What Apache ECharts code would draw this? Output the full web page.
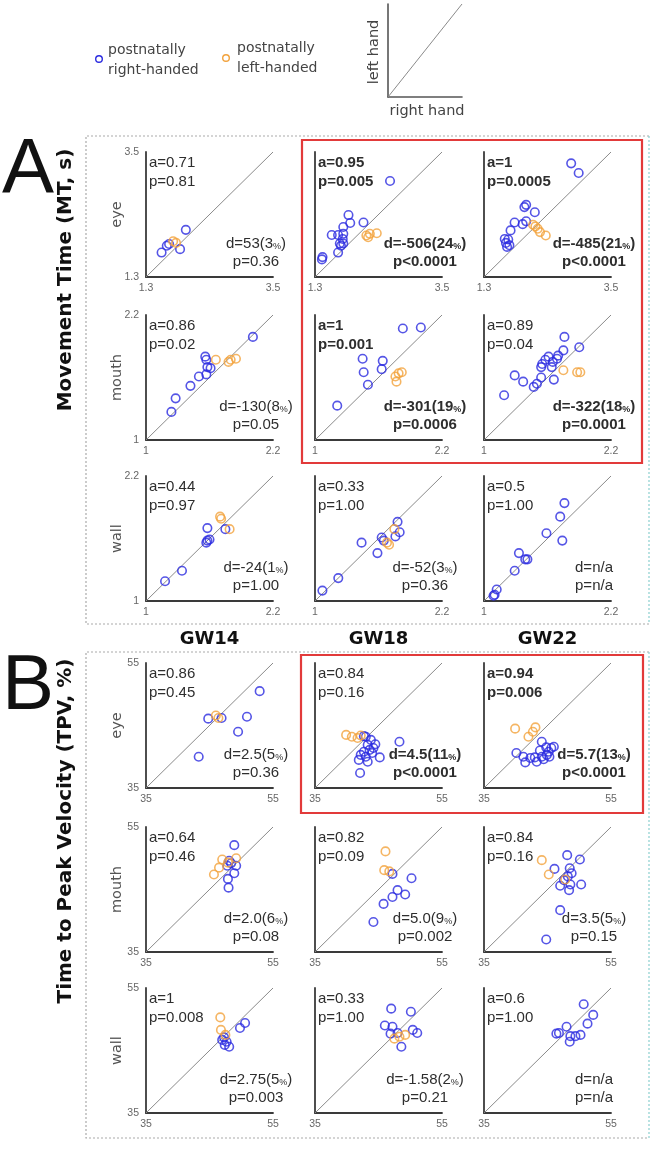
<!DOCTYPE html>
<html>
<head>
<meta charset="utf-8">
<script src="https://cdn.jsdelivr.net/npm/echarts@6/dist/echarts.min.js"></script>
<style>html,body{margin:0;padding:0;background:#fff}#c{width:654px;height:1150px}</style>
</head>
<body>
<div id="c"></div>
<script>
// ---------- DATA ----------
const columns = ['GW14', 'GW18', 'GW22'];
const rowNames = ['eye', 'mouth', 'wall', 'eye', 'mouth', 'wall'];
const rowRanges = [[1.3, 3.5], [1, 2.2], [1, 2.2], [35, 55], [35, 55], [35, 55]];

// Movement Time (MT, s): [right hand, left hand]
const mtEyeGW14R = [[1.57,1.73],[1.66,1.85],[1.70,1.88],[1.89,1.79],[1.99,2.13]];
const mtEyeGW14L = [[1.77,1.93],[1.82,1.90]];
const mtEyeGW18R = [[2.60,2.99],[2.14,2.26],[1.88,2.39],[1.91,2.25],[1.79,2.18],[1.59,2.04],[1.70,2.04],[1.79,2.06],[1.78,1.97],[1.73,1.89],[1.79,1.89],[1.70,1.73],[1.43,1.65],[1.42,1.61],[1.75,1.85]];
const mtEyeGW18L = [[2.19,2.03],[2.25,2.06],[2.37,2.07],[2.22,2.00]];
const mtEyeGW22R = [[2.81,3.30],[2.94,3.13],[2.03,2.57],[2.00,2.53],[2.18,2.44],[1.83,2.26],[1.97,2.23],[2.03,2.28],[1.76,2.12],[1.66,1.97],[1.72,1.96],[1.70,1.83],[1.74,1.86],[1.68,1.90]];
const mtEyeGW22L = [[2.15,2.22],[2.23,2.15],[2.27,2.09],[2.37,2.03],[2.19,2.19]];

const mtMouthGW14R = [[2.01,1.99],[1.56,1.80],[1.57,1.77],[1.58,1.70],[1.61,1.69],[1.57,1.63],[1.50,1.61],[1.42,1.52],[1.28,1.40],[1.24,1.27]];
const mtMouthGW14L = [[1.66,1.77],[1.78,1.75],[1.80,1.77],[1.85,1.78]];
const mtMouthGW18R = [[1.83,2.07],[2.00,2.08],[1.45,1.78],[1.64,1.76],[1.46,1.65],[1.63,1.68],[1.50,1.53],[1.21,1.33]];
const mtMouthGW18L = [[1.82,1.65],[1.76,1.61],[1.77,1.56],[1.79,1.64]];
const mtMouthGW22R = [[1.76,1.99],[1.90,1.89],[1.61,1.80],[1.75,1.86],[1.70,1.81],[1.58,1.77],[1.55,1.73],[1.65,1.75],[1.69,1.78],[1.64,1.70],[1.54,1.70],[1.29,1.62],[1.37,1.56],[1.47,1.51],[1.50,1.54],[1.54,1.60],[1.66,1.58],[1.19,1.43]];
const mtMouthGW22L = [[1.75,1.67],[1.88,1.65],[1.91,1.65]];

const mtWallGW14R = [[1.18,1.19],[1.34,1.29],[1.58,1.70],[1.58,1.58],[1.60,1.59],[1.57,1.56],[1.75,1.69]];
const mtWallGW14L = [[1.70,1.81],[1.71,1.79],[1.79,1.69]];
const mtWallGW18R = [[1.07,1.10],[1.22,1.22],[1.44,1.56],[1.59,1.46],[1.63,1.61],[1.65,1.58],[1.78,1.76],[1.80,1.66],[1.76,1.62]];
const mtWallGW18L = [[1.75,1.69],[1.70,1.54],[1.68,1.56]];
const mtWallGW22R = [[1.76,1.94],[1.72,1.81],[1.59,1.65],[1.74,1.58],[1.33,1.46],[1.39,1.40],[1.41,1.40],[1.29,1.29],[1.12,1.11],[1.10,1.06],[1.09,1.05]];
const mtWallGW22L = [];

// Time to Peak Velocity (TPV, %)
const tpvEyeGW14R = [[52.9,50.5],[44.8,46.1],[46.9,46.2],[50.9,46.4],[49.5,44.0],[43.3,40.0]];
const tpvEyeGW14L = [[46.0,46.6],[46.4,46.2]];
const tpvEyeGW18R = [[48.3,42.4],[42.7,43.3],[43.0,43.2],[43.8,42.7],[43.3,41.9],[44.2,41.4],[43.6,41.1],[42.7,40.8],[42.2,40.3],[43.0,40.0],[41.9,39.5],[43.3,39.2],[45.2,39.9],[42.1,37.4],[44.0,40.6],[44.5,42.0]];
const tpvEyeGW18L = [[39.9,43.5],[40.8,43.2],[41.7,43.0],[42.2,43.4]];
const tpvEyeGW22R = [[44.1,42.4],[44.8,41.5],[45.6,41.4],[46.0,41.6],[45.2,40.8],[40.1,40.6],[41.2,40.0],[42.3,39.8],[41.5,39.1],[43.3,39.2],[44.1,40.0],[44.9,40.3],[45.3,40.0],[44.4,39.6],[43.0,39.9],[43.8,41.0]];
const tpvEyeGW22L = [[39.9,44.5],[43.1,44.7],[42.7,44.0],[42.0,43.2]];

const tpvMouthGW14R = [[48.9,52.1],[48.4,49.2],[47.8,48.8],[49.2,48.8],[48.9,47.6],[47.9,46.7],[48.0,45.3],[48.1,49.6]];
const tpvMouthGW14L = [[47.0,49.8],[49.2,50.0],[46.5,48.5],[45.7,47.4],[47.9,49.3]];
const tpvMouthGW18R = [[47.2,47.5],[50.2,46.8],[48.0,44.9],[49.2,44.2],[47.2,43.8],[45.8,42.7],[44.2,39.8]];
const tpvMouthGW18L = [[46.1,51.1],[45.9,48.1],[46.7,47.9]];
const tpvMouthGW22R = [[48.1,50.5],[50.1,49.8],[46.1,48.3],[48.5,48.4],[48.2,47.1],[47.6,46.5],[48.6,45.8],[47.0,45.6],[48.4,44.9],[50.3,45.8],[47.0,41.7],[44.8,37.0],[48.8,47.6]];
const tpvMouthGW22L = [[44.1,49.7],[45.2,47.4],[47.8,46.6]];

const tpvWallGW14R = [[50.6,49.4],[49.8,48.6],[47.3,47.1],[47.7,46.4],[48.1,45.6],[47.4,45.9],[47.0,46.7]];
const tpvWallGW14L = [[46.7,50.3],[46.8,48.3],[47.5,47.5]];
const tpvWallGW18R = [[47.0,51.7],[50.1,51.2],[46.0,49.0],[47.2,48.8],[46.9,47.7],[48.0,47.8],[50.4,48.3],[51.1,47.8],[48.6,45.6]];
const tpvWallGW18L = [[48.3,47.2],[49.2,47.5],[47.5,46.9]];
const tpvWallGW22R = [[50.7,52.4],[52.2,50.7],[51.3,49.3],[48.0,48.8],[46.8,47.8],[46.4,47.7],[48.5,46.4],[50.2,47.5],[49.4,47.3],[48.6,47.3]];
const tpvWallGW22L = [];

const rightData = [
  [mtEyeGW14R, mtEyeGW18R, mtEyeGW22R],
  [mtMouthGW14R, mtMouthGW18R, mtMouthGW22R],
  [mtWallGW14R, mtWallGW18R, mtWallGW22R],
  [tpvEyeGW14R, tpvEyeGW18R, tpvEyeGW22R],
  [tpvMouthGW14R, tpvMouthGW18R, tpvMouthGW22R],
  [tpvWallGW14R, tpvWallGW18R, tpvWallGW22R]
];
const leftData = [
  [mtEyeGW14L, mtEyeGW18L, mtEyeGW22L],
  [mtMouthGW14L, mtMouthGW18L, mtMouthGW22L],
  [mtWallGW14L, mtWallGW18L, mtWallGW22L],
  [tpvEyeGW14L, tpvEyeGW18L, tpvEyeGW22L],
  [tpvMouthGW14L, tpvMouthGW18L, tpvMouthGW22L],
  [tpvWallGW14L, tpvWallGW18L, tpvWallGW22L]
];

// statistics text: [a, p, d, pd, topBold, bottomBold]
const stats = [
  [['a=0.71','p=0.81','d=53(3%)','p=0.36',0,0], ['a=0.95','p=0.005','d=-506(24%)','p<0.0001',1,1], ['a=1','p=0.0005','d=-485(21%)','p<0.0001',1,1]],
  [['a=0.86','p=0.02','d=-130(8%)','p=0.05',0,0], ['a=1','p=0.001','d=-301(19%)','p=0.0006',1,1], ['a=0.89','p=0.04','d=-322(18%)','p=0.0001',0,1]],
  [['a=0.44','p=0.97','d=-24(1%)','p=1.00',0,0], ['a=0.33','p=1.00','d=-52(3%)','p=0.36',0,0], ['a=0.5','p=1.00','d=n/a','p=n/a',0,0]],
  [['a=0.86','p=0.45','d=2.5(5%)','p=0.36',0,0], ['a=0.84','p=0.16','d=4.5(11%)','p<0.0001',0,1], ['a=0.94','p=0.006','d=5.7(13%)','p<0.0001',1,1]],
  [['a=0.64','p=0.46','d=2.0(6%)','p=0.08',0,0], ['a=0.82','p=0.09','d=5.0(9%)','p=0.002',0,0], ['a=0.84','p=0.16','d=3.5(5%)','p=0.15',0,0]],
  [['a=1','p=0.008','d=2.75(5%)','p=0.003',0,0], ['a=0.33','p=1.00','d=-1.58(2%)','p=0.21',0,0], ['a=0.6','p=1.00','d=n/a','p=n/a',0,0]]
];

const legendLabels = ['postnatally\nright-handed', 'postnatally\nleft-handed'];
const sectionTitles = ['Movement Time (MT, s)', 'Time to Peak Velocity (TPV, %)'];
const sectionLetters = ['A', 'B'];

// ---------- LAYOUT ----------
const BLUE = '#2a2ae0', ORANGE = '#f2a23c';
const COL_X = [146, 315, 484];
const ROW_TOP = [152, 315, 476, 663, 827, 988];
const GW = 127, GH = 125;
const TXT = '#2e2e2e';
const PANEL_FONT = 'Liberation Sans, Arial, sans-serif';
const LABEL_FONT = 'DejaVu Sans, sans-serif';

const grid = [], xAxis = [], yAxis = [], series = [], graphic = [];

for (let r = 0; r < 6; r++) {
  const [mn, mx] = rowRanges[r];
  for (let c = 0; c < 3; c++) {
    const gi = grid.length;
    grid.push({left: COL_X[c], top: ROW_TOP[r], width: GW, height: GH});
    const axLine = {show: true, onZero: false, lineStyle: {color: '#3a3a3a', width: 1.8}};
    xAxis.push({gridIndex: gi, type: 'value', min: mn, max: mx, axisLine: axLine,
      axisTick: {show: false}, splitLine: {show: false},
      axisLabel: {customValues: [mn, mx], fontSize: 10.5, color: '#666', margin: 6, fontFamily: PANEL_FONT, hideOverlap: false}});
    yAxis.push({gridIndex: gi, type: 'value', min: mn, max: mx, axisLine: axLine,
      axisTick: {show: false}, splitLine: {show: false},
      axisLabel: {show: c === 0, customValues: [mn, mx], fontSize: 10.5, color: '#666', margin: 7, fontFamily: PANEL_FONT, hideOverlap: false}});
    series.push({type: 'line', xAxisIndex: gi, yAxisIndex: gi, data: [[mn, mn], [mx, mx]],
      symbol: 'none', silent: true, lineStyle: {color: '#8a8a8a', width: 1}, z: 1});
    series.push({type: 'scatter', xAxisIndex: gi, yAxisIndex: gi, data: rightData[r][c],
      symbol: 'circle', symbolSize: 8.5, silent: true,
      itemStyle: {color: 'rgba(0,0,0,0)', borderColor: BLUE, borderWidth: 1.6}, z: 2});
    series.push({type: 'scatter', xAxisIndex: gi, yAxisIndex: gi, data: leftData[r][c],
      symbol: 'circle', symbolSize: 8.5, silent: true,
      itemStyle: {color: 'rgba(0,0,0,0)', borderColor: ORANGE, borderWidth: 1.6}, z: 3});

    // annotations
    const s = stats[r][c];
    const x0 = COL_X[c], t0 = ROW_TOP[r];
    const fwTop = s[4] ? 'bold' : 'normal', fwBot = s[5] ? 'bold' : 'normal';
    const pct = (str) => str.replace('%', '{pc|%}');
    graphic.push({type: 'text', x: x0 + 3, y: t0 + 11, style: {text: s[0], font: fwTop + ' 15px ' + PANEL_FONT, fill: TXT, textVerticalAlign: 'middle'}});
    graphic.push({type: 'text', x: x0 + 3, y: t0 + 30, style: {text: s[1], font: fwTop + ' 15px ' + PANEL_FONT, fill: TXT, textVerticalAlign: 'middle'}});
    graphic.push({type: 'text', x: x0 + 110, y: t0 + 92, style: {text: pct(s[2]), font: fwBot + ' 15px ' + PANEL_FONT, fill: TXT, textAlign: 'center', textVerticalAlign: 'middle',
      rich: {pc: {fontSize: 9, fontWeight: fwBot, fontFamily: PANEL_FONT, fill: TXT, padding: [5, 0, 0, 0]}}}});
    graphic.push({type: 'text', x: x0 + 110, y: t0 + 110, style: {text: s[3], font: fwBot + ' 15px ' + PANEL_FONT, fill: TXT, textAlign: 'center', textVerticalAlign: 'middle'}});
  }
  // row label
  graphic.push({type: 'text', x: 117, y: ROW_TOP[r] + GH / 2, rotation: Math.PI / 2,
    style: {text: rowNames[r], font: '14.5px ' + LABEL_FONT, fill: '#555', textAlign: 'center', textVerticalAlign: 'middle'}});
}

// inset explaining axes
const ig = grid.length;
grid.push({left: 388, top: 4, width: 74, height: 93});
xAxis.push({gridIndex: ig, type: 'value', min: 0, max: 1, axisLine: {lineStyle: {color: '#555', width: 1.6}}, axisTick: {show: false}, axisLabel: {show: false}, splitLine: {show: false}});
yAxis.push({gridIndex: ig, type: 'value', min: 0, max: 1, axisLine: {show: true, lineStyle: {color: '#555', width: 1.6}}, axisTick: {show: false}, axisLabel: {show: false}, splitLine: {show: false}});
series.push({type: 'line', xAxisIndex: ig, yAxisIndex: ig, data: [[0, 0], [1, 1]], symbol: 'none', silent: true, lineStyle: {color: '#8a8a8a', width: 1}});
graphic.push({type: 'text', x: 374, y: 52, rotation: Math.PI / 2, style: {text: 'left hand', font: '14.5px ' + LABEL_FONT, fill: '#444', textAlign: 'center', textVerticalAlign: 'middle'}});
graphic.push({type: 'text', x: 427, y: 111, style: {text: 'right hand', font: '14.5px ' + LABEL_FONT, fill: '#444', textAlign: 'center', textVerticalAlign: 'middle'}});

// legend
graphic.push({type: 'circle', shape: {cx: 99, cy: 59, r: 3.3}, style: {fill: 'none', stroke: BLUE, lineWidth: 1.4}});
graphic.push({type: 'text', x: 108, y: 60, style: {text: legendLabels[0], font: '14px ' + LABEL_FONT, fill: '#444', textVerticalAlign: 'middle', lineHeight: 20}});
graphic.push({type: 'circle', shape: {cx: 226, cy: 58, r: 3.3}, style: {fill: 'none', stroke: ORANGE, lineWidth: 1.4}});
graphic.push({type: 'text', x: 237, y: 58, style: {text: legendLabels[1], font: '14px ' + LABEL_FONT, fill: '#444', textVerticalAlign: 'middle', lineHeight: 20}});

// section boxes (dotted, right edge tinted)
const boxes = [[86, 136, 649, 624], [86, 652, 649, 1138]];
boxes.forEach(([x1, y1, x2, y2]) => {
  const dash = {fill: 'none', stroke: '#aaa', lineWidth: 1.2, lineDash: [2, 2]};
  graphic.push({type: 'polyline', shape: {points: [[x2, y1], [x1, y1], [x1, y2], [x2, y2]]}, style: dash, z: 0});
  graphic.push({type: 'line', shape: {x1: x2, y1: y1, x2: x2, y2: y2}, style: {stroke: '#8ccfcf', lineWidth: 1.2, lineDash: [2, 2]}, z: 0});
});
graphic.push({type: 'rect', shape: {x: 302, y: 140, width: 340, height: 323}, style: {fill: 'none', stroke: '#e23a3a', lineWidth: 2.2}});
graphic.push({type: 'rect', shape: {x: 301, y: 655, width: 342, height: 158}, style: {fill: 'none', stroke: '#e23a3a', lineWidth: 2.2}});

// section letters and titles
graphic.push({type: 'text', x: 28, y: 171, style: {text: sectionLetters[0], font: '78px Liberation Sans, Arial, sans-serif', fill: '#111', textAlign: 'center', textVerticalAlign: 'middle'}});
graphic.push({type: 'text', x: 28, y: 687, style: {text: sectionLetters[1], font: '78px Liberation Sans, Arial, sans-serif', fill: '#111', textAlign: 'center', textVerticalAlign: 'middle'}});
graphic.push({type: 'text', x: 66, y: 280, rotation: Math.PI / 2, style: {text: sectionTitles[0], font: 'bold 20px ' + LABEL_FONT, fill: '#111', textAlign: 'center', textVerticalAlign: 'middle'}});
graphic.push({type: 'text', x: 66, y: 831, rotation: Math.PI / 2, style: {text: sectionTitles[1], font: 'bold 20px ' + LABEL_FONT, fill: '#111', textAlign: 'center', textVerticalAlign: 'middle'}});

// column headers
for (let c = 0; c < 3; c++) {
  graphic.push({type: 'text', x: COL_X[c] + GW / 2, y: 639, style: {text: columns[c], font: 'bold 18px ' + LABEL_FONT, fill: '#111', textAlign: 'center', textVerticalAlign: 'middle'}});
}

const chart = echarts.init(document.getElementById('c'), null, {renderer: 'canvas'});
chart.setOption({
  backgroundColor: '#fff',
  animation: false,
  grid, xAxis, yAxis, series, graphic
});
</script>
</body>
</html>
